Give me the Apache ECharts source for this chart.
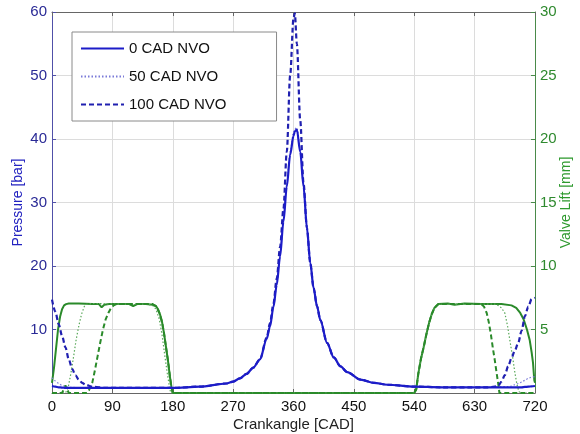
<!DOCTYPE html>
<html><head><meta charset="utf-8">
<script src="https://cdn.jsdelivr.net/npm/echarts@6/dist/echarts.min.js"></script>
<style>html,body{margin:0;padding:0;background:#fff}#c{width:580px;height:434px}</style>
</head><body><div id="c"></div>
<script>
// ---- data ----
const xTicks = [0, 90, 180, 270, 360, 450, 540, 630, 720];
const pressureCad = [0,5,10,15,20,25,30,35,40,45,50,60,80,100,140,180,220,260,270,280,290,300,310,320,325,330,335,340,345,350,355,360,362,365,370,375,380,385,390,395,400,410,420,430,440,460,480,500,540,580,620,640,650,660,665,670,675,680,685,690,695,700,705,710,715,720];
const p0nvo   = [1.1,1.0,0.9,0.85,0.8,0.8,0.8,0.8,0.8,0.8,0.8,0.8,0.8,0.8,0.8,0.8,1.0,1.5,1.8,2.3,3.0,4.0,5.3,8.5,10.5,13.5,17,21.5,27,32.5,37.5,40.5,41.2,41.5,38,32.5,26,20.5,16.5,13.7,11.5,7.9,5.6,4.2,3.3,2.1,1.6,1.3,1.0,0.9,0.9,0.9,0.9,0.9,0.9,0.9,0.9,0.9,0.9,0.9,0.9,0.9,0.95,1.0,1.05,1.1];
const p50nvo  = [2.4,1.9,1.5,1.2,1.0,0.9,0.9,0.85,0.8,0.8,0.8,0.8,0.8,0.8,0.8,0.8,1.0,1.5,1.8,2.3,3.0,4.0,5.3,8.6,10.7,13.8,17.5,22,27.5,33,38,41,41.6,41.8,38.5,32.8,26.2,20.6,16.5,13.7,11.5,7.9,5.6,4.2,3.3,2.1,1.6,1.3,1.0,0.9,0.9,0.9,0.9,0.9,0.95,1.0,1.0,1.0,1.1,1.3,1.5,1.7,2.0,2.3,2.5,2.6];
const p100nvo = [14.7,12.8,10.8,9.0,7.2,5.3,3.8,2.8,2.1,1.6,1.3,1.0,0.8,0.8,0.8,0.8,1.0,1.5,1.8,2.3,3.0,4.0,5.3,8.7,11,14,18,23,29,38,50,59,59.8,55,43,33,26,20.5,16.5,13.7,11.5,7.9,5.6,4.2,3.3,2.1,1.6,1.3,1.0,0.9,0.9,0.9,0.9,1.0,1.1,1.8,2.8,4.2,5.5,6.7,7.9,9.8,12.1,13.6,14.8,15.0];

const lift0Cad  = [0,3,6,9,12,15,18,21,25,30,40,60,70,74,78,85,100,115,121,127,140,150,155,158,161,164,167,170,173,176,178,180,270,400,540,543,546,550,554,558,562,566,570,576,590,600,615,640,670,685,692,698,703,708,712,715,717,719,720];
const lift0     = [0.8,2.0,3.5,5.0,6.0,6.6,6.9,7.0,7.05,7.05,7.05,7.0,7.0,6.75,6.95,7.0,7.0,7.0,6.85,7.0,7.0,6.95,6.85,6.6,6.2,5.6,4.7,3.6,2.5,1.2,0.5,0,0,0,0,0.3,1.5,2.7,3.6,4.6,5.5,6.2,6.7,7.0,7.05,6.95,7.05,7.0,7.0,6.9,6.7,6.3,5.8,5.0,4.2,3.2,2.4,1.0,0.8];
const lift50Cad = [0,20,24,28,32,36,40,44,48,52,60,100,140,150,155,160,164,168,172,175,177,270,400,540,543,546,550,554,558,562,566,570,576,600,640,660,665,670,675,679,683,687,690,693,696,700,720];
const lift50    = [0,0,0.4,1.5,2.8,4.2,5.3,6.2,6.8,7.0,7.05,7.0,7.0,6.9,6.6,5.8,4.6,3.0,1.5,0.5,0,0,0,0,0.3,1.5,2.7,3.6,4.6,5.5,6.2,6.7,7.0,7.0,7.0,7.0,6.9,6.7,6.3,5.3,4.0,2.7,1.6,0.7,0.1,0,0];
const lift100Cad = [0,15,20,25,52,55,60,64,68,72,76,80,84,88,92,96,120,150,156,160,164,167,170,173,176,178,180,270,400,540,543,546,550,554,558,562,566,570,576,600,640,644,648,651,654,657,660,663,665,667,720];
const lift100    = [0,0,0.6,0,0,0.2,0.8,1.8,2.9,4.0,5.0,5.8,6.3,6.7,6.9,7.0,7.0,7.0,6.8,6.3,5.6,4.7,3.6,2.5,1.2,0.5,0,0,0,0,0.3,1.5,2.7,3.6,4.6,5.5,6.2,6.7,7.0,7.0,7.0,6.8,6.3,5.6,4.7,3.6,2.6,1.5,0.8,0,0];

// ---- chart ----
const zip = (xs, ys) => xs.map((x, i) => [x, ys[i]]);
const BLUE = '#1c1cc8', GREEN = '#2a8a2a';
const FONT = 'Liberation Sans, Arial, sans-serif';
const chart = echarts.init(document.getElementById('c'), null, {renderer: 'canvas'});
chart.setOption({
  animation: false,
  backgroundColor: '#ffffff',
  textStyle: {fontFamily: FONT},
  grid: {left: 52, right: 45, top: 12, bottom: 41, containLabel: false, outerBoundsMode: 'none'},
  legend: {
    orient: 'vertical', left: 72, top: 32,
    data: ['0 CAD NVO', '50 CAD NVO', '100 CAD NVO'],
    itemWidth: 43, itemHeight: 14, itemGap: 13,
    padding: [9, 50, 9, 8],
    backgroundColor: '#ffffff', borderColor: '#8a8a8a', borderWidth: 1,
    itemStyle: {color: 'transparent', borderWidth: 0, opacity: 0},
    textStyle: {fontFamily: FONT, fontSize: 15, color: '#111'}
  },
  xAxis: [{
    type: 'value', min: 0, max: 720, interval: 90,
    name: 'Crankangle [CAD]', nameLocation: 'middle', nameGap: 24, nameMoveOverlap: false,
    nameTextStyle: {fontSize: 15, color: '#222', fontFamily: FONT},
    axisLine: {onZero: false, lineStyle: {color: '#666'}},
    axisTick: {inside: true, length: 4, lineStyle: {color: '#666'}},
    axisLabel: {fontSize: 15, color: '#111', margin: 6, fontFamily: FONT},
    splitLine: {show: true, lineStyle: {color: '#dcdcdc'}}
  }, {
    type: 'value', min: 0, max: 720, interval: 90, position: 'top',
    axisLine: {show: true, onZero: false, lineStyle: {color: '#666'}},
    axisTick: {inside: true, length: 4, lineStyle: {color: '#666'}},
    axisLabel: {show: false}, splitLine: {show: false}
  }],
  yAxis: [{
    type: 'value', min: 0, max: 60, interval: 10, position: 'left',
    name: 'Pressure [bar]', nameLocation: 'middle', nameGap: 27, nameMoveOverlap: false,
    nameTextStyle: {fontSize: 14, color: '#2323c0', fontFamily: FONT},
    axisLine: {show: true, onZero: false, lineStyle: {color: '#5050a8'}},
    axisTick: {show: true, inside: true, length: 4, lineStyle: {color: '#5050a8'}},
    axisLabel: {fontSize: 15, color: '#2a2a96', showMinLabel: false, margin: 5, fontFamily: FONT},
    splitLine: {show: true, lineStyle: {color: '#dcdcdc'}}
  }, {
    type: 'value', min: 0, max: 30, interval: 5, position: 'right',
    name: 'Valve Lift [mm]', nameLocation: 'middle', nameGap: 24, nameMoveOverlap: false,
    nameTextStyle: {fontSize: 14, color: '#2f9a2f', fontFamily: FONT},
    axisLine: {show: true, onZero: false, lineStyle: {color: '#4a8a4a'}},
    axisTick: {show: true, inside: true, length: 4, lineStyle: {color: '#4a8a4a'}},
    axisLabel: {fontSize: 15, color: '#2f8a2f', showMinLabel: false, margin: 5, fontFamily: FONT},
    splitLine: {show: false}
  }],
  series: [
    {name: '0 CAD NVO', type: 'line', yAxisIndex: 0, data: zip(pressureCad, p0nvo), symbol: 'none', smooth: 0.3, smoothMonotone: 'x', lineStyle: {color: BLUE, width: 2.2, type: 'solid'}, itemStyle: {color: BLUE}, z: 5},
    {name: '50 CAD NVO', type: 'line', yAxisIndex: 0, data: zip(pressureCad, p50nvo), symbol: 'none', smooth: 0.3, smoothMonotone: 'x', lineStyle: {color: '#7a7ad8', width: 1.2, type: [1.5, 2]}, itemStyle: {color: '#7a7ad8'}, z: 4},
    {name: '100 CAD NVO', type: 'line', yAxisIndex: 0, data: zip(pressureCad, p100nvo), symbol: 'none', smooth: 0.3, smoothMonotone: 'x', lineStyle: {color: '#2020b0', width: 2.2, type: [5, 3]}, itemStyle: {color: '#2020b0'}, z: 4},
    {name: 'lift0', type: 'line', yAxisIndex: 1, data: zip(lift0Cad, lift0), symbol: 'none', lineStyle: {color: GREEN, width: 2, type: 'solid'}, z: 3},
    {name: 'lift50', type: 'line', yAxisIndex: 1, data: zip(lift50Cad, lift50), symbol: 'none', lineStyle: {color: '#5aa85a', width: 1.2, type: [1.5, 2]}, z: 3},
    {name: 'lift100', type: 'line', yAxisIndex: 1, data: zip(lift100Cad, lift100), symbol: 'none', lineStyle: {color: GREEN, width: 2, type: [5, 3]}, z: 3}
  ]
});
</script></body></html>
